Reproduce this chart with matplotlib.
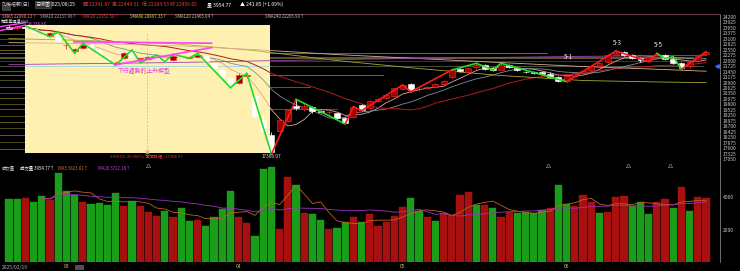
import matplotlib
matplotlib.use('Agg')
import matplotlib.pyplot as plt
from matplotlib.patches import Rectangle
import numpy as np
import pandas as pd

plt.rcParams['font.family'] = ['Noto Sans CJK TC', 'DejaVu Sans']

# daily candles, 2025/02/19 .. 2025/06/25 (one value per trading day)
opens = [23700, 23620, 23700, 23560, 23300, 23250, 23300, 22780, 22480, 22650,
         22780, 22550, 22200, 21850, 22150, 22420, 22100, 22100, 22220, 22100,
         22050, 22250, 22150, 22200, 22250, 21900, 21550, 21150, 20900, 21250,
         20200, 19000, 18250, 18450, 18950, 19700, 19550, 19650, 19450, 19400,
         19350, 19100, 19170, 19770, 19600, 19950, 20100, 20200, 20550, 20850,
         20550, 20600, 20650, 20850, 21200, 21600, 21450, 21700, 21800, 21650,
         21550, 21800, 21650, 21450, 21420, 21450, 21350, 21200, 21000, 21250,
         21400, 21550, 21750, 21950, 22300, 22420, 22300, 22150, 22000, 22200,
         22300, 22080, 21900, 21750, 22000, 22341.87]
highs = [23760, 23720, 23734, 23600, 23380, 23448, 23350, 22880, 22650, 22866,
         22820, 22600, 22280, 22000, 22450, 22530, 22150, 22230, 22280, 22150,
         22315, 22300, 22200, 22365, 22280, 21950, 21600, 21200, 21362, 21362,
         20250, 19300, 18400, 19050, 19550, 20059, 19800, 19700, 19520, 19480,
         19380, 19150, 19700, 19800, 20000, 20120, 20280, 20620, 20775, 20870,
         20650, 20700, 20900, 21050, 21600, 21650, 21700, 21864, 21850, 21700,
         21864, 21830, 21700, 21500, 21470, 21500, 21420, 21250, 21300, 21450,
         21550, 21800, 21950, 22350, 22480, 22460, 22350, 22200, 22250, 22365,
         22330, 22250, 21950, 22000, 22230, 22464.51]
lows = [23560, 23540, 23620, 23420, 23197, 23230, 22950, 22560, 22365, 22600,
        22560, 22300, 21950, 21778, 22100, 22150, 21894, 22050, 22120, 21944,
        22000, 22150, 22114, 22180, 21950, 21600, 21150, 20640, 20850, 21150,
        19150, 18400, 17306.97, 18300, 18900, 19500, 19450, 19380, 19350, 19300,
        19050, 18820, 19100, 19480, 19550, 19900, 20050, 20150, 20500, 20440,
        20450, 20550, 20600, 20800, 21150, 21450, 21400, 21600, 21528, 21500,
        21520, 21620, 21480, 21380, 21350, 21300, 21150, 20941, 20941, 21200,
        21350, 21500, 21700, 21900, 22250, 22250, 22100, 21944, 21944, 22150,
        22050, 21850, 21563, 21650, 21950, 22284.53]
closes = [23600, 23680, 23650, 23450, 23250, 23400, 23000, 22800, 22600, 22800,
          22600, 22350, 22000, 21900, 22400, 22200, 22100, 22200, 22180, 22000,
          22250, 22200, 22180, 22300, 22000, 21650, 21200, 20700, 21300, 21300,
          19232, 18460, 17392, 19000, 19528, 19600, 19700, 19450, 19420, 19410,
          19100, 18870, 19650, 19520, 19950, 20080, 20250, 20600, 20750, 20500,
          20580, 20650, 20850, 21000, 21550, 21500, 21650, 21800, 21600, 21550,
          21800, 21680, 21520, 21430, 21400, 21350, 21200, 21000, 21250, 21400,
          21500, 21750, 21900, 22300, 22400, 22300, 22150, 22050, 22200, 22300,
          22100, 21900, 21650, 21950, 22208.8, 22450.65]

# volume (億), colour as drawn: R = up, G = down
volume = [3900, 3900, 3980, 3730, 4100, 3840, 5490, 4400, 4170, 3720,
          3610, 3670, 3550, 4290, 3490, 3780, 3490, 3120, 2830, 3180,
          2770, 3320, 2520, 2580, 2230, 2790, 3260, 4380, 2770, 2400,
          1630, 5780, 5900, 2060, 5280, 4750, 3050, 2970, 2580, 2020,
          2120, 2480, 2760, 2480, 2990, 2230, 2500, 2830, 3410, 3960,
          3160, 2770, 2540, 3010, 2910, 4150, 4330, 3530, 3510, 3340,
          2800, 3070, 3010, 3120, 3030, 3200, 3320, 4770, 3570, 3470,
          4170, 3720, 3050, 3070, 4030, 4110, 3490, 3720, 2970, 3720,
          3920, 3360, 4620, 3140, 4000, 3954.77]
vol_dir = 'GGRGGRGGGRGGGGRGRRRGRGGRGGGGRRGGGRRGRGGRGGRGRRRRRGGRGRRRRGRGRRGGGGRGGRRRGRRRGGGRRGRGRR'

# long moving averages (bar index -> value)
ma_long_idx = [0, 10, 20, 30, 40, 50, 60, 70, 80, 85]
sma60 = [23100, 23000, 22850, 22500, 22000, 21600, 21250, 21000, 20920, 20897]
sma120 = [22900, 22850, 22750, 22550, 22300, 22100, 21900, 21700, 21550, 21465]
sma240 = [21800, 21850, 21900, 21980, 22050, 22110, 22160, 22210, 22250, 22266]

# zigzag swing points (bar index, price) and leg colours
zz_idx = [2, 5, 6, 8, 9, 13, 15, 16, 18, 19, 20, 22, 23, 27, 29, 32, 35, 41, 42, 43,
          48, 49, 54, 57, 59, 60, 68, 74, 78, 79, 80, 81, 82, 85]
zz_px = [23734, 23197, 23448, 22365, 22866, 21778, 22530, 21894, 22280, 21944,
         22315, 22114, 22365, 20640, 21362, 17307, 20059, 18820, 19688, 19490,
         20775, 20440, 21528, 21864, 21528, 21864, 20941, 22480, 21944, 22365,
         22100, 22200, 21563, 22450]
zz_col = 'GGGGGGGGGGGGGGGRGRRRRRGGGGRRRGGGR'

# price-volume profile bars (price level, length in bars, colour)
prof_px = [23300, 23050, 22750, 22500, 22355, 22130, 21955, 21700, 21450, 21270,
           21000, 20650, 20350, 20100, 19800, 19550, 19200, 18900, 18600, 18250,
           17900, 17550]
prof_len = [4, 5, 4, 3, 66.8, 84.6, 84.6, 85.8, 4, 46.8, 3, 37.9, 4, 3, 4, 41.2, 3, 3, 4, 3, 3, 4]
prof_col = ['#5c5c22', '#4a4a1c', '#5c5c22', '#6a5a22', '#9a4a26', '#55552a', '#4e2e22',
            '#4c4c3c', '#5c5c22', '#66662a', '#4a4a1c', '#5a5a24', '#4a4a1c', '#5c5c22',
            '#4a4a1c', '#55552a', '#4a4a1c', '#5c5c22', '#4a4a1c', '#5c5c22', '#4a4a1c',
            '#5c5c22']

# small signal arrows at the top of the volume panel (bar index)
sig_idx = [16.9, 65.7, 75.5, 80.6]

price_ticks = list(range(17050, 24201, 275))
month_pos = [7, 28, 48, 68]
month_lab = ['03', '04', '05', '06']

n = len(closes)
x = np.arange(n)
W, H = 740, 271
fig = plt.figure(figsize=(W / 100, H / 100), dpi=100, facecolor='black')

def fx(px):
    return px / W

def fy(py):
    return 1 - py / H

ax = fig.add_axes([0, fy(164), fx(720), fy(14) - fy(164)], facecolor='black')
axv = fig.add_axes([0, fy(262), fx(720), fy(164) - fy(262)], facecolor='black')
xlim = (-1.1, 86.7)
for a in (ax, axv):
    a.set_xlim(*xlim)
    a.set_xticks([])
    for s in ('top', 'left', 'bottom'):
        a.spines[s].set_visible(False)
    a.spines['right'].set_color('#808080')
    a.spines['right'].set_linewidth(0.6)
    a.yaxis.tick_right()
    a.tick_params(axis='y', colors='#c8c8c8', labelsize=3.6, length=0, pad=2)
ax.spines['top'].set_visible(True)
ax.spines['top'].set_color('#6a3a4a')
ax.spines['bottom'].set_visible(True)
ax.spines['bottom'].set_color('#6a3a4a')
ax.set_ylim(16814, 24335)
ax.set_yticks(price_ticks)
axv.set_ylim(0, 6068)
axv.set_yticks([2000, 4000])

# volume profile (behind everything)
ax.barh(prof_px, prof_len, left=xlim[0], height=60, color=prof_col, zorder=1)

# highlighted pattern zone
ax.add_patch(Rectangle((1.95, 17350), 31.83 - 1.95, 23790 - 17350,
                       facecolor='#fdf0b0', edgecolor='none', zorder=2))
ax.axvline(16.8, ymin=0.07, ymax=0.87, color='#f0a0a0', lw=0.5, ls=(0, (3, 2)), zorder=2.5)
ax.plot([16.8], [17420], marker='x', color='#ff8040', ms=3, mew=0.6, zorder=6)
ax.hlines(21720, 1.95, 31.83, color='#a0d8e8', lw=0.6, zorder=2.5)

# moving averages
cs = pd.Series(closes)
ax.plot(x, cs.rolling(5, min_periods=1).mean(), color='#e8a0a0', lw=0.6, zorder=3)
ax.plot(x, cs.rolling(10, min_periods=1).mean(), color='#7890a8', lw=0.6, zorder=3)
ax.plot(x, cs.rolling(20, min_periods=1).mean(), color='#b01c1c', lw=0.7, zorder=3)
ax.plot(ma_long_idx, sma60, color='#a8a830', lw=0.6, zorder=3)
ax.plot(ma_long_idx, sma120, color='#d8b090', lw=0.6, zorder=3)
ax.plot(ma_long_idx, sma240, color='#a040b0', lw=0.6, zorder=3)

# candles
o = np.array(opens); c = np.array(closes)
up = c >= o
ax.vlines(x, lows, highs, color=np.where(up, '#ff2a2a', '#ffffff'), lw=0.6, zorder=4)
body = np.maximum(np.abs(c - o), 15)
ax.bar(x, body, bottom=np.minimum(o, c), width=0.72,
       color=np.where(up, '#a00000', '#ffffff'),
       edgecolor=np.where(up, '#ff2a2a', '#ffffff'), linewidth=0.4, zorder=4)

# zigzag
for k in range(len(zz_idx) - 1):
    col = '#ff1a1a' if zz_col[k] == 'R' else '#22dd22'
    ax.plot(zz_idx[k:k + 2], zz_px[k:k + 2], color=col, lw=1.2, zorder=5,
            solid_capstyle='round')

# rising wedge lines
ax.plot([7.9, 24.7], [22940, 22870], color='#ff40ff', lw=1.2, zorder=5)
ax.plot([12.9, 24.7], [21780, 22650], color='#ff40ff', lw=1.2, zorder=5)
ax.plot([-1.1, 2.0], [23700, 23900], color='#ff40ff', lw=1.0, zorder=5)
ax.plot([-1.1, 2.0], [23500, 23780], color='#ff40ff', lw=1.0, zorder=5)
ax.text(16.5, 21500, '下行趨勢的上升楔型', color='#e040e0', fontsize=4.2,
        ha='center', va='center', zorder=6)

# wave labels
for xi, pv, t in [(68.2, 22000, '5-1'), (74.2, 22700, '5-3'), (79.2, 22580, '5-5')]:
    ax.text(xi, pv, t, color='#f0f0f0', fontsize=4.5, ha='center', va='bottom', zorder=6)
ax.text(32.0, 17306.97, '17306.97', color='#e0e0e0', fontsize=3.4, ha='center',
        va='top', zorder=6)
ax.text(2.3, 23860, '23,7XX.XX', color='#ff60ff', fontsize=3.0, ha='left', va='center', zorder=6)
ax.text(16.8, 17200, '6399.03  26.99(%)  區間跌幅  -17306.97', color='#ff3030',
        fontsize=3.0, ha='center', va='center', zorder=6)
ax.plot([86.3], [21720], marker='<', color='#3070ff', ms=2.5, zorder=6, clip_on=False)

# volume bars and averages
vcol = ['#a80f0f' if d == 'R' else '#1a9e1a' for d in vol_dir]
axv.bar(x, volume, width=0.88, color=vcol, edgecolor=vcol, linewidth=0.3, zorder=2)
vs = pd.Series(volume)
axv.plot(x, vs.rolling(5).mean(), color='#c06020', lw=0.6, zorder=3)
axv.plot(x, vs.rolling(20, min_periods=5).mean(), color='#a030c0', lw=0.6, zorder=3)
axv.plot(sig_idx, [5980] * len(sig_idx), ls='none', marker='^', ms=3, mfc='none',
         mec='#a0a0a0', mew=0.4, zorder=4)

# date labels
for p, lab in zip(month_pos, month_lab):
    fig.text(fx(9 + 8.2 * p), fy(267), lab, color='#c8c850', fontsize=3.6, ha='center', va='center')
fig.text(fx(2), fy(267), '2025/02/19', color='#b0b0b0', fontsize=3.6, ha='left', va='center')
fig.text(fx(75), fy(268.5), '          ', fontsize=3,
         bbox=dict(boxstyle='square,pad=0.1', fc='#505050', ec='none'))

# header rows
hdr = [(2, '加權指數(日)', '#d0d0d0'), (50, '2025/06/25', '#ffffff'),
       (83, '開 22341.87', '#ff3030'), (112, '高 22444.51', '#ff3030'),
       (142, '低 22284.53', '#ff3030'), (170, '收 22450.65', '#ff3030'),
       (207, '量 3954.77', '#ffffff'), (240, '▲ 241.85 (+1.09%)', '#ffffff')]
for px, t, col in hdr:
    fig.text(fx(px), fy(4.5), t, color=col, fontsize=3.6, ha='left', va='center')
fig.text(fx(35), fy(4.5), '日線圖', color='#e0e0e0', fontsize=3.6, ha='left', va='center',
         bbox=dict(boxstyle='square,pad=0.1', fc='#303030', ec='#606060', lw=0.4))
fig.text(fx(2), fy(10), '        ', fontsize=3.5,
         bbox=dict(boxstyle='square,pad=0.1', fc='#404040', ec='none'))

sma_lab = [(2, 'SMA5 22090.13', '#ff8080'), (40, 'SMA10 22137.96', '#a0a8c0'),
           (82, 'SMA20 21952.50', '#ff3030'), (130, 'SMA60 20897.33', '#e0e040'),
           (175, 'SMA120 21465.04', '#d0c0a0'), (265, 'SMA240 22265.99', '#c0c0c0')]
for px, t, col in sma_lab:
    fig.text(fx(px), fy(17), t + '↑', color=col, fontsize=3.1, ha='left', va='center')
fig.text(fx(1), fy(21.0), '標準差通道(60)', color='#e0e0e0', fontsize=3.0, ha='left', va='center')

vol_lab = [(2, '成交量', '#d0d0d0'), (20, '成交量 3954.77↑', '#ffffff'),
           (58, 'MA5 3823.81↑', '#d07030'), (98, 'MA20 3722.18↑', '#c040e0')]
for px, t, col in vol_lab:
    fig.text(fx(px), fy(168), t, color=col, fontsize=3.2, ha='left', va='center')

fig.savefig('out.png', dpi=100, facecolor='black')
